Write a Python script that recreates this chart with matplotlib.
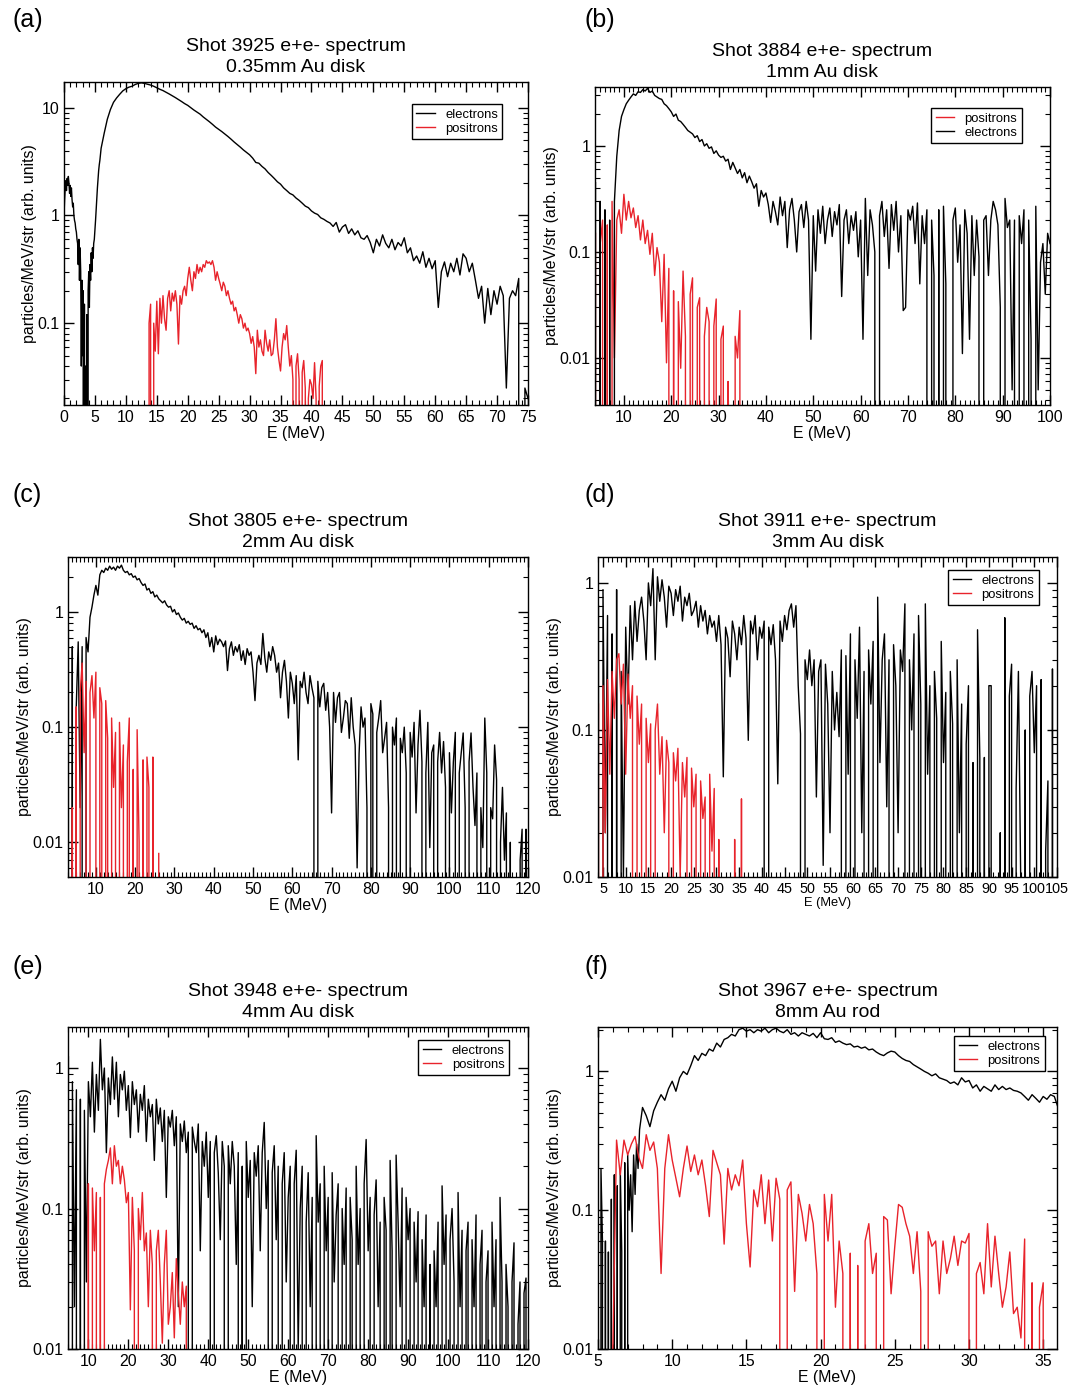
import numpy as np
import matplotlib
matplotlib.use('Agg')
import matplotlib.pyplot as plt
from matplotlib.ticker import MultipleLocator, LogLocator, NullFormatter, FuncFormatter

plt.rcParams['font.family'] = ['Liberation Sans', 'DejaVu Sans']

RED = '#e8232b'

# ---------------- (a) Shot 3925, 0.35mm Au disk ----------------
# electrons 0.0-5.9 MeV in 0.1 MeV bins
a_ele_low = [
    1.0, 1.4, 1.8, 2.1, 1.7, 2.2, 1.9, 2.3, 2.0, 1.6,
    1.9, 1.5, 1.8, 1.4, 1.2, 1.3, 1.0, 0.9, 0.85, 0.75,
    0.7, 0.6, 0.55, 0.35, 0.6, 0.25, 0.5, 0.3, 0.04, 0.25,
    0.05, 0.2, 0.0, 0.15, 0.0, 0.04, 0.0, 0.12, 0.0, 0.2,
    0.3, 0.14, 0.35, 0.25, 0.45, 0.3, 0.5, 0.4, 0.55, 0.6,
    0.73, 0.9, 1.15, 1.45, 1.8, 2.2, 2.6, 2.95, 3.25, 3.7,
]
# electrons 6.0-75.0 MeV in 0.5 MeV bins
a_ele = [
    4.2, 5.8, 7.8, 9.6, 11.2, 12.3, 13.3, 14.3, 15.0, 15.5,
    15.8, 16.4, 16.8, 17.0, 16.8, 16.5, 16.2, 15.8, 15.3, 14.8,
    14.4, 13.9, 13.4, 12.9, 12.4, 11.9, 11.4, 10.9, 10.5, 10.0,
    9.5, 9.1, 8.7, 8.2, 7.8, 7.4, 7.0, 6.6, 6.3, 6.0,
    5.7, 5.4, 5.1, 4.8, 4.55, 4.3, 4.05, 3.85, 3.65, 3.4,
    3.1, 3.05, 2.85, 2.7, 2.5, 2.35, 2.2, 2.05, 1.95, 1.8,
    1.7, 1.6, 1.55, 1.45, 1.38, 1.3, 1.22, 1.18, 1.1, 1.05,
    1.02, 0.95, 0.92, 0.88, 0.85, 0.79, 0.86, 0.7, 0.78, 0.82,
    0.68, 0.75, 0.66, 0.72, 0.62, 0.6, 0.65, 0.56, 0.45, 0.6,
    0.52, 0.66, 0.55, 0.5, 0.6, 0.48, 0.56, 0.52, 0.62, 0.45,
    0.5, 0.38, 0.42, 0.36, 0.46, 0.33, 0.4, 0.32, 0.38, 0.14,
    0.3, 0.37, 0.27, 0.36, 0.3, 0.4, 0.28, 0.44, 0.4, 0.3,
    0.36, 0.25, 0.17, 0.22, 0.1, 0.21, 0.12, 0.2, 0.15, 0.22,
    0.18, 0.025, 0.17, 0.2, 0.18, 0.26, 0.0, 0.025, 0.02,
]
# positrons 13.5-42.0 MeV in 0.25 MeV bins
a_pos = [
    0, 0.1, 0.15, 0, 0.1, 0.055, 0.16, 0.052,
    0.17, 0.1, 0.18, 0.11, 0.086, 0.17, 0.2, 0.13,
    0.19, 0.16, 0.2, 0.15, 0.064, 0.18, 0.15, 0.2,
    0.22, 0.18, 0.26, 0.33, 0.25, 0.2, 0.3, 0.26,
    0.35, 0.29, 0.33, 0.3, 0.35, 0.33, 0.38, 0.36,
    0.37, 0.35, 0.38, 0.33, 0.25, 0.3, 0.26, 0.23,
    0.2, 0.24, 0.22, 0.18, 0.2, 0.17, 0.15, 0.16,
    0.13, 0.14, 0.12, 0.1, 0.12, 0.11, 0.09, 0.1,
    0.085, 0.09, 0.08, 0.065, 0.075, 0.06, 0.034, 0.086,
    0.06, 0.07, 0.055, 0.05, 0.086, 0.065, 0.055, 0.07,
    0.05, 0.052, 0.07, 0.11, 0.06, 0.045, 0.036, 0.06,
    0.08, 0.07, 0.095, 0.06, 0.04, 0.05, 0.03, 0,
    0.04, 0.052, 0.03, 0, 0.035, 0.045, 0.025, 0,
    0.02, 0.03, 0.027, 0.02, 0.043, 0.02, 0, 0.026,
    0.04, 0.045, 0,
]

# ---------------- (b) Shot 3884, 1mm Au disk ----------------
# electrons 4.0-100.0 MeV, 0.5 MeV bins
b_ele = [
    0.45, 0.0, 0.3, 0.0, 0.25, 0.0, 0.2, 0.0, 0.3, 0.8,
    1.4, 1.9, 2.2, 2.5, 2.7, 2.9, 3.1, 3.0, 3.25, 3.2,
    3.4, 3.3, 3.5, 3.2, 3.3, 3.0, 2.9, 2.8, 2.75, 2.5,
    2.4, 2.25, 2.1, 1.9, 2.0, 1.75, 1.7, 1.6, 1.5, 1.4,
    1.35, 1.3, 1.2, 1.25, 1.1, 1.15, 1.0, 1.05, 0.95, 0.98,
    0.85, 0.9, 0.82, 0.78, 0.8, 0.72, 0.75, 0.6, 0.7, 0.62,
    0.55, 0.6, 0.5, 0.56, 0.45, 0.52, 0.46, 0.4, 0.44, 0.27,
    0.38, 0.33, 0.36, 0.28, 0.19, 0.3, 0.24, 0.18, 0.33, 0.22,
    0.3, 0.11, 0.25, 0.32, 0.2, 0.1, 0.24, 0.28, 0.17, 0.3,
    0.2, 0.015, 0.22, 0.066, 0.25, 0.15, 0.27, 0.12, 0.2, 0.26,
    0.14, 0.24, 0.18, 0.28, 0.038, 0.2, 0.25, 0.12, 0.22, 0.16,
    0.24, 0.09, 0.2, 0.015, 0.32, 0.06, 0.25, 0.18, 0.1, 0.0,
    0.22, 0.3, 0.14, 0.25, 0.07, 0.28, 0.16, 0.3, 0.1, 0.22,
    0.028, 0.03, 0.25, 0.2, 0.27, 0.12, 0.29, 0.05, 0.22, 0.12,
    0.25, 0.0, 0.2, 0.06, 0.0, 0.25, 0.0, 0.27, 0.05, 0.0,
    0.0, 0.2, 0.26, 0.08, 0.18, 0.011, 0.25, 0.15, 0.015, 0.22,
    0.06, 0.2, 0.09, 0.0, 0.2, 0.22, 0.06, 0.2, 0.3, 0.25,
    0.18, 0.03, 0.0, 0.32, 0.17, 0.2, 0.005, 0.2, 0.0, 0.22,
    0.12, 0.25, 0.0, 0.2, 0.015, 0.0, 0.27, 0.005, 0.08, 0.12,
    0.04, 0.15, 0.12,
]
# positrons 4.0-35.0 MeV, 0.5 MeV bins
b_pos = [
    0.15, 0.0, 0.12, 0.2, 0.0, 0.18, 0.0, 0.3, 0.01, 0.2,
    0.25, 0.15, 0.35, 0.2, 0.3, 0.21, 0.26, 0.17, 0.22, 0.13,
    0.2, 0.12, 0.16, 0.095, 0.15, 0.06, 0.11, 0.08, 0.022, 0.095,
    0.009, 0.07, 0.0, 0.043, 0.0, 0.034, 0.008, 0.066, 0.016, 0.0,
    0.04, 0.057, 0.0, 0.03, 0.037, 0.0, 0.016, 0.03, 0.022, 0.0,
    0.02, 0.036, 0.0, 0.015, 0.02, 0.0, 0.006, 0.0, 0.0, 0.016,
    0.01, 0.028, 0.0,
]

# ---------------- (c) Shot 3805, 2mm Au disk ----------------
# electrons 3.0-120.0 MeV, 0.5 MeV bins
c_ele = [
    0.7, 0.0, 0.5, 0.0, 0.15, 0.55, 0.02, 0.5, 0.0, 0.6,
    0.45, 0.9, 1.1, 1.4, 1.7, 1.4, 2.1, 2.3, 2.2, 2.4,
    2.3, 2.5, 2.35, 2.45, 2.3, 2.5, 2.4, 2.55, 2.3, 2.2,
    2.25, 2.1, 2.15, 2.0, 2.05, 1.9, 1.95, 1.8, 1.7, 1.75,
    1.55, 1.6, 1.45, 1.5, 1.35, 1.4, 1.3, 1.25, 1.2, 1.25,
    1.15, 1.1, 1.12, 1.0, 1.05, 0.95, 0.98, 0.9, 0.85, 0.88,
    0.8, 0.83, 0.78, 0.8, 0.72, 0.76, 0.7, 0.72, 0.66, 0.7,
    0.6, 0.66, 0.5, 0.6, 0.45, 0.62, 0.52, 0.58, 0.55, 0.5,
    0.56, 0.31, 0.48, 0.55, 0.42, 0.5, 0.45, 0.52, 0.38, 0.46,
    0.35, 0.48, 0.42, 0.45, 0.3, 0.17, 0.36, 0.42, 0.35, 0.65,
    0.4, 0.3, 0.45, 0.38, 0.5, 0.42, 0.3, 0.36, 0.18, 0.3,
    0.38, 0.25, 0.12, 0.3, 0.24, 0.16, 0.28, 0.052, 0.25, 0.22,
    0.3, 0.2, 0.16, 0.28, 0.22, 0.18, 0.0, 0.25, 0.15, 0.22,
    0.24, 0.14, 0.2, 0.1, 0.018, 0.2, 0.11, 0.18, 0.2, 0.09,
    0.12, 0.17, 0.16, 0.08, 0.18, 0.1, 0.07, 0.006, 0.059, 0.15,
    0.1, 0.12, 0.02, 0.0, 0.16, 0.13, 0.0, 0.09, 0.12, 0.17,
    0.06, 0.08, 0.11, 0.02, 0.0, 0.1, 0.07, 0.12, 0.0, 0.08,
    0.06, 0.1, 0.04, 0.0, 0.09, 0.055, 0.11, 0.018, 0.07, 0.14,
    0.05, 0.0, 0.04, 0.11, 0.009, 0.06, 0.07, 0.0, 0.05, 0.09,
    0.04, 0.075, 0.03, 0.0, 0.06, 0.018, 0.05, 0.09, 0.0, 0.04,
    0.06, 0.089, 0.02, 0.0, 0.05, 0.089, 0.03, 0.014, 0.04, 0.0,
    0.02, 0.009, 0.12, 0.04, 0.0, 0.02, 0.016, 0.07, 0.035, 0.0,
    0.01, 0.03, 0.007, 0.018, 0.0, 0.01, 0.0, 0.0, 0.0, 0.0,
    0.007, 0.013, 0.0, 0.013, 0.0,
]
# positrons 3.5-26.0 MeV, 0.5 MeV bins
c_pos = [
    0.0, 0.02, 0.0, 0.15, 0.0, 0.2, 0.36, 0.06, 0.25, 0.0,
    0.2, 0.28, 0.12, 0.3, 0.0, 0.22, 0.16, 0.0, 0.17, 0.08,
    0.0, 0.12, 0.03, 0.09, 0.0, 0.11, 0.02, 0.07, 0.0, 0.05,
    0.12, 0.0, 0.043, 0.0, 0.095, 0.01, 0.0, 0.052, 0.0, 0.055,
    0.03, 0.0, 0.055, 0.0, 0.0, 0.008,
]

# ---------------- (d) Shot 3911, 3mm Au disk ----------------
# electrons 4.0-104.5 MeV, 0.5 MeV bins
d_ele = [
    0.7, 0.0, 0.9, 0.02, 0.6, 0.0, 0.45, 0.0, 0.9, 0.0,
    0.25, 0.01, 0.5, 0.15, 0.7, 0.3, 0.75, 0.4, 0.65, 0.8,
    0.55, 0.3, 1.0, 0.7, 1.25, 0.3, 1.1, 0.75, 1.05, 0.8,
    0.5, 0.95, 0.85, 0.6, 0.9, 0.75, 0.95, 0.55, 0.8, 0.7,
    0.85, 0.6, 0.65, 0.75, 0.5, 0.7, 0.55, 0.65, 0.45, 0.6,
    0.5, 0.55, 0.4, 0.6, 0.38, 0.048, 0.5, 0.42, 0.23, 0.55,
    0.45, 0.3, 0.5, 0.38, 0.6, 0.42, 0.085, 0.55, 0.45, 0.6,
    0.3, 0.5, 0.42, 0.55, 0.0, 0.5, 0.38, 0.52, 0.3, 0.043,
    0.55, 0.4, 0.6, 0.48, 0.65, 0.72, 0.5, 0.7, 0.2, 0.094,
    0.0, 0.3, 0.22, 0.35, 0.2, 0.3, 0.035, 0.25, 0.3, 0.012,
    0.28, 0.15, 0.02, 0.25, 0.1, 0.18, 0.09, 0.35, 0.0, 0.32,
    0.05, 0.45, 0.0, 0.3, 0.12, 0.5, 0.02, 0.25, 0.0, 0.35,
    0.15, 0.4, 0.0, 0.8, 0.06, 0.3, 0.45, 0.03, 0.3, 0.0,
    0.38, 0.2, 0.02, 0.35, 0.25, 0.72, 0.0, 0.3, 0.1, 0.45,
    0.0, 0.6, 0.15, 0.0, 0.72, 0.05, 0.2, 0.0, 0.25, 0.12,
    0.0, 0.4, 0.06, 0.18, 0.0, 0.25, 0.11, 0.0, 0.3, 0.02,
    0.15, 0.0, 0.08, 0.2, 0.0, 0.06, 0.0, 0.48, 0.065, 0.0,
    0.065, 0.0, 0.2, 0.2, 0.0, 0.01, 0.0, 0.02, 0.0, 0.58,
    0.0, 0.17, 0.28, 0.0, 0.04, 0.25, 0.01, 0.0, 0.1, 0.0,
    0.17, 0.25, 0.07, 0.2, 0.0, 0.22, 0.0, 0.015, 0.045, 0.0,
    0.26, 0.0,
]
# positrons 4.0-36.0 MeV, 0.5 MeV bins
d_pos = [
    0.15, 0.0, 0.2, 0.02, 0.22, 0.05, 0.25, 0.12, 0.3, 0.33,
    0.15, 0.28, 0.05, 0.24, 0.12, 0.2, 0.0, 0.17, 0.08, 0.15,
    0.0, 0.12, 0.06, 0.11, 0.0, 0.1, 0.15, 0.05, 0.09, 0.02,
    0.085, 0.06, 0.0, 0.07, 0.045, 0.075, 0.01, 0.06, 0.035, 0.065,
    0.0, 0.055, 0.03, 0.05, 0.0, 0.045, 0.025, 0.035, 0.0, 0.05,
    0.015, 0.04, 0.0, 0.018, 0.0, 0.0, 0.0, 0.0, 0.0, 0.0,
    0.018, 0.0, 0.0, 0.034, 0.0,
]

# ---------------- (e) Shot 3948, 4mm Au disk ----------------
# electrons 5.0-120.0 MeV, 0.5 MeV bins
e_ele = [
    1.2, 0.0, 0.8, 0.02, 0.7, 0.0, 0.6, 0.0, 0.5, 0.03,
    0.8, 0.45, 1.1, 0.35, 0.9, 0.5, 1.6, 0.7, 1.0, 0.25,
    0.85, 0.55, 1.2, 0.6, 1.1, 0.45, 0.9, 0.7, 0.95, 0.5,
    0.75, 0.32, 0.8, 0.55, 0.7, 0.35, 0.65, 0.5, 0.75, 0.3,
    0.6, 0.45, 0.55, 0.22, 0.6, 0.4, 0.52, 0.3, 0.5, 0.12,
    0.45, 0.38, 0.5, 0.28, 0.45, 0.02, 0.4, 0.3, 0.42, 0.25,
    0.35, 0.0, 0.38, 0.3, 0.25, 0.4, 0.05, 0.3, 0.2, 0.35,
    0.12, 0.3, 0.0, 0.25, 0.33, 0.18, 0.06, 0.3, 0.2, 0.0,
    0.28, 0.15, 0.3, 0.2, 0.04, 0.25, 0.0, 0.2, 0.0, 0.3,
    0.12, 0.22, 0.02, 0.25, 0.17, 0.28, 0.05, 0.25, 0.41, 0.1,
    0.22, 0.0, 0.18, 0.28, 0.06, 0.2, 0.0, 0.15, 0.25, 0.03,
    0.12, 0.2, 0.0, 0.15, 0.26, 0.01, 0.1, 0.2, 0.0, 0.08,
    0.18, 0.02, 0.12, 0.0, 0.33, 0.08, 0.15, 0.0, 0.2, 0.05,
    0.12, 0.0, 0.18, 0.03, 0.09, 0.15, 0.0, 0.1, 0.04, 0.14,
    0.0, 0.12, 0.06, 0.0, 0.2, 0.04, 0.1, 0.0, 0.15, 0.31,
    0.05, 0.12, 0.0, 0.09, 0.16, 0.02, 0.08, 0.0, 0.12, 0.07,
    0.0, 0.22, 0.05, 0.0, 0.24, 0.08, 0.02, 0.14, 0.0, 0.12,
    0.06, 0.1, 0.0, 0.08, 0.03, 0.095, 0.0, 0.06, 0.02, 0.09,
    0.0, 0.04, 0.0, 0.05, 0.02, 0.08, 0.0, 0.145, 0.04, 0.09,
    0.0, 0.06, 0.1, 0.03, 0.0, 0.13, 0.02, 0.07, 0.0, 0.05,
    0.08, 0.0, 0.06, 0.02, 0.09, 0.0, 0.04, 0.07, 0.0, 0.03,
    0.05, 0.0, 0.08, 0.02, 0.06, 0.0, 0.12, 0.03, 0.0, 0.04,
    0.02, 0.0, 0.03, 0.057, 0.0, 0.015, 0.03, 0.0, 0.025, 0.032,
    0.0,
]
# positrons 9.5-35.0 MeV, 0.5 MeV bins
e_pos = [
    0.0,
    0.15, 0.0, 0.14, 0.05, 0.13, 0.0, 0.12, 0.0, 0.15, 0.19,
    0.22, 0.27, 0.15, 0.28, 0.2, 0.22, 0.15, 0.2, 0.16, 0.11,
    0.13, 0.019, 0.12, 0.05, 0.0, 0.1, 0.06, 0.13, 0.05, 0.067,
    0.02, 0.07, 0.04, 0.0, 0.05, 0.07, 0.03, 0.011, 0.04, 0.07,
    0.015, 0.02, 0.035, 0.012, 0.044, 0.025, 0.015, 0.03, 0.02, 0.028,
    0.0,
]

# ---------------- (f) Shot 3967, 8mm Au rod ----------------
# electrons 5.0-7.9 MeV, 0.1 MeV bins
f_ele_low = [
    0.24, 0.0, 0.2, 0.06, 0.0, 0.06, 0.0, 0.05, 0.0, 0.12,
    0.0, 0.18, 0.0, 0.15, 0.0, 0.2, 0.05, 0.0, 0.22, 0.0,
    0.25, 0.1, 0.18, 0.07, 0.25, 0.13, 0.3, 0.2, 0.38, 0.46,
]
# electrons 8.0-36.0 MeV, 0.25 MeV bins
f_ele = [
    0.55, 0.48, 0.4, 0.52, 0.6, 0.68, 0.62, 0.75,
    0.85, 0.72, 0.9, 1.0, 0.95, 1.1, 1.3, 1.2,
    1.35, 1.3, 1.45, 1.4, 1.6, 1.5, 1.7, 1.75,
    1.85, 1.8, 2.0, 2.05, 1.95, 2.0, 1.9, 2.0,
    1.95, 2.05, 1.9, 2.0, 2.05, 1.95, 1.9, 2.0,
    1.85, 1.9, 1.8, 1.9, 1.85, 1.8, 1.88, 1.75,
    1.9, 1.72, 1.7, 1.75, 1.62, 1.66, 1.6, 1.56,
    1.58, 1.5, 1.52, 1.47, 1.5, 1.43, 1.45, 1.38,
    1.33, 1.3, 1.36, 1.4, 1.38, 1.3, 1.24, 1.2,
    1.18, 1.12, 1.08, 1.04, 1.0, 0.97, 0.93, 0.96,
    0.9, 0.88, 0.86, 0.82, 0.84, 0.8, 0.9, 0.84,
    0.86, 0.76, 0.8, 0.72, 0.78, 0.75, 0.72, 0.8,
    0.74, 0.78, 0.74, 0.76, 0.73, 0.72, 0.7, 0.66,
    0.62, 0.68, 0.64, 0.6, 0.66, 0.63, 0.68, 0.66,
    0.55,
]
# positrons 5.75-35.25 MeV, 0.25 MeV bins
f_pos = [
    0.0, 0.01, 0.32, 0.18, 0.32, 0.25, 0.3, 0.34,
    0.24, 0.2, 0.35, 0.27, 0.31, 0.2, 0.035, 0.2,
    0.35, 0.23, 0.17, 0.125, 0.2, 0.29, 0.19, 0.25,
    0.18, 0.23, 0.15, 0.09, 0.27, 0.22, 0.18, 0.057,
    0.2, 0.14, 0.18, 0.15, 0.23, 0.08, 0.039, 0.14,
    0.106, 0.18, 0.08, 0.165, 0.06, 0.17, 0.12, 0.0,
    0.14, 0.16, 0.026, 0.13, 0.095, 0.06, 0.11, 0.08,
    0.035, 0.0, 0.13, 0.06, 0.13, 0.02, 0.06, 0.035,
    0.0, 0.049, 0.0, 0.04, 0.0, 0.06, 0.08, 0.035,
    0.049, 0.0, 0.09, 0.085, 0.025, 0.055, 0.11, 0.105,
    0.08, 0.065, 0.035, 0.07, 0.026, 0.0, 0.07, 0.055,
    0.06, 0.025, 0.06, 0.035, 0.045, 0.065, 0.04, 0.06,
    0.058, 0.068, 0.0, 0.035, 0.042, 0.025, 0.08, 0.028,
    0.065, 0.035, 0.02, 0.028, 0.05, 0.018, 0.02, 0.012,
    0.062, 0.0, 0.03, 0.0, 0.02, 0.03, 0.0,
]


def bins(e0, de, vals):
    """energy of each bin"""
    return e0 + de * np.arange(len(vals))


def spectrum(*parts):
    E = np.concatenate([bins(e0, de, v) for e0, de, v in parts])
    V = np.concatenate([np.asarray(v, float) for _, _, v in parts])
    return E, V


a_e = spectrum((0.0, 0.1, a_ele_low), (6.0, 0.5, a_ele))
a_p = spectrum((13.5, 0.25, a_pos))
b_e = spectrum((4.0, 0.5, b_ele))
b_p = spectrum((4.0, 0.5, b_pos))
c_e = spectrum((3.0, 0.5, c_ele))
c_p = spectrum((3.5, 0.5, c_pos))
d_e = spectrum((4.0, 0.5, d_ele))
d_p = spectrum((4.0, 0.5, d_pos))
e_e = spectrum((5.0, 0.5, e_ele))
e_p = spectrum((9.5, 0.5, e_pos))
f_e = spectrum((5.0, 0.1, f_ele_low), (8.0, 0.25, f_ele))
f_p = spectrum((5.75, 0.25, f_pos))

W, H = 1086, 1387
panels = [
    dict(tag='(a)', tagxy=(12, 20), box=(64, 82, 528, 405),
         title='Shot 3925 e+e- spectrum\n0.35mm Au disk',
         xlim=(0, 75), ylim=(0.0174, 17.3), xmajor=5,
         series=[(a_e, 'black', 'electrons'), (a_p, RED, 'positrons')],
         leg=(0.945, 0.932), xlfs=11.4, xtfs=11.4),
    dict(tag='(b)', tagxy=(585, 20), box=(595, 87, 1050, 405),
         title='Shot 3884 e+e- spectrum\n1mm Au disk',
         xlim=(3.9, 100), ylim=(0.0036, 3.6), xmajor=10,
         series=[(b_p, RED, 'positrons'), (b_e, 'black', 'electrons')],
         leg=(0.938, 0.934), xlfs=11.4, xtfs=11.4),
    dict(tag='(c)', tagxy=(12, 495), box=(68, 557, 528, 877),
         title='Shot 3805 e+e- spectrum\n2mm Au disk',
         xlim=(2.9, 120), ylim=(0.005, 3.0), xmajor=10,
         series=[(c_e, 'black', None), (c_p, RED, None)],
         leg=None, xlfs=11.4, xtfs=11.4),
    dict(tag='(d)', tagxy=(585, 495), box=(598, 557, 1057, 877),
         title='Shot 3911 e+e- spectrum\n3mm Au disk',
         xlim=(3.9, 105), ylim=(0.01, 1.5), xmajor=5,
         series=[(d_e, 'black', 'electrons'), (d_p, RED, 'positrons')],
         leg=(0.961, 0.959), xlfs=9.3, xtfs=10.4),
    dict(tag='(e)', tagxy=(12, 967), box=(68, 1027, 528, 1349),
         title='Shot 3948 e+e- spectrum\n4mm Au disk',
         xlim=(4.9, 120), ylim=(0.01, 1.96), xmajor=10,
         series=[(e_e, 'black', 'electrons'), (e_p, RED, 'positrons')],
         leg=(0.959, 0.96), xlfs=11.4, xtfs=11.4),
    dict(tag='(f)', tagxy=(585, 967), box=(598, 1027, 1057, 1349),
         title='Shot 3967 e+e- spectrum\n8mm Au rod',
         xlim=(5, 35.93), ylim=(0.01, 2.09), xmajor=5,
         series=[(f_e, 'black', 'electrons'), (f_p, RED, 'positrons')],
         leg=(0.974, 0.972), xlfs=11.4, xtfs=11.4),
]

fig = plt.figure(figsize=(W / 100, H / 100), dpi=100)

for p in panels:
    x0, y0, x1, y1 = p['box']
    ax = fig.add_axes([x0 / W, 1 - y1 / H, (x1 - x0) / W, (y1 - y0) / H])
    for (E, V), col, lab in p['series']:
        ax.plot(E, V, color=col, lw=1.0, label=lab)
    ax.set_yscale('log', nonpositive='clip')
    ax.set_xlim(*p['xlim'])
    ax.set_ylim(*p['ylim'])

    ax.xaxis.set_major_locator(MultipleLocator(p['xmajor']))
    ax.xaxis.set_minor_locator(MultipleLocator(1))
    ax.yaxis.set_major_locator(LogLocator(10, numticks=10))
    ax.yaxis.set_minor_locator(LogLocator(10, subs=np.arange(2, 10) * 1.0, numticks=60))
    ax.yaxis.set_major_formatter(FuncFormatter(lambda v, pos: f'{v:g}'))
    ax.yaxis.set_minor_formatter(NullFormatter())
    ax.tick_params(which='both', direction='in', top=True, right=True, labelsize=11.4)
    ax.tick_params(axis='x', labelsize=p['xtfs'])
    ax.tick_params(which='major', length=7, width=1)
    ax.tick_params(which='minor', length=3.5, width=0.8)
    for s in ax.spines.values():
        s.set_linewidth(1.0)

    ax.set_xlabel('E (MeV)', fontsize=p['xlfs'], labelpad=1)
    ax.set_ylabel('particles/MeV/str (arb. units)', fontsize=11.4, labelpad=0)
    ax.set_title(p['title'], fontsize=14, pad=7, linespacing=1.34)

    if p['leg'] is not None:
        lg = ax.legend(loc='upper right', bbox_to_anchor=p['leg'], fontsize=9.4,
                       frameon=True, fancybox=False, edgecolor='black', framealpha=1,
                       handlelength=1.4, handletextpad=0.8, borderpad=0.35,
                       labelspacing=0.15, borderaxespad=0)
        lg.get_frame().set_linewidth(1.0)

    tx, ty = p['tagxy']
    fig.text(tx / W, 1 - ty / H, p['tag'], fontsize=18, ha='left', va='center')

fig.savefig('out.png', dpi=100)
